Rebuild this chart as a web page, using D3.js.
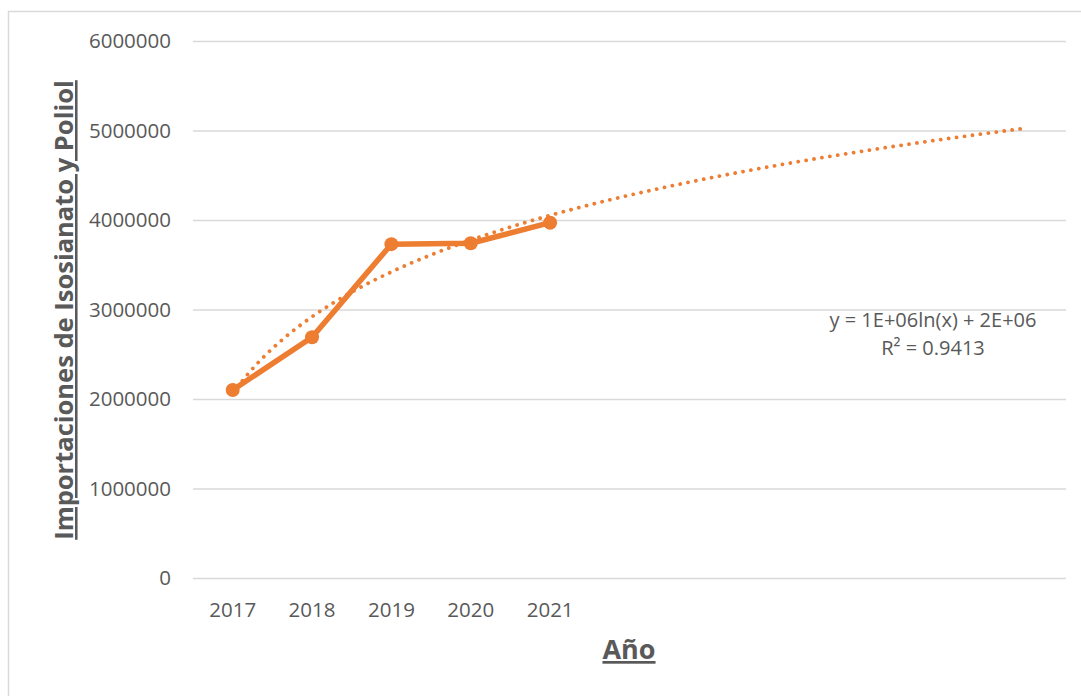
<!DOCTYPE html>
<html>
<head>
<meta charset="utf-8">
<script src="https://cdn.jsdelivr.net/npm/d3@7"></script>
<style>
  body { margin: 0; background: #fff; }
  svg text { font-family: "Open Sans", "Noto Sans", sans-serif; }
</style>
</head>
<body>
<div id="chart"></div>
<script>
// data
let years = ["2017", "2018", "2019", "2020", "2021"];
let imports = [2100000, 2690000, 3730000, 3740000, 3970000];
let y_ticks = [0, 1000000, 2000000, 3000000, 4000000, 5000000, 6000000];
let forecast_periods = 6; // trendline forecast forward
let eq_lines = ["y = 1E+06ln(x) + 2E+06", "R\u00b2 = 0.9413"];

let W = 1081, H = 696;
let margin = { left: 193, right: 15, top: 41, bottom: 118 };
let chart_width = W - margin.left - margin.right;
let chart_height = H - margin.top - margin.bottom;
let orange = "#ED7D31";
let grey_text = "#595959";

let svg = d3.select("#chart").append("svg")
  .attr("width", W)
  .attr("height", H);

// chart area border
svg.append("rect")
  .attr("x", 8.5).attr("y", 11.5)
  .attr("width", W + 20).attr("height", H + 20)
  .attr("fill", "none")
  .attr("stroke", "#D9D9D9")
  .attr("stroke-width", 1.5);

let g = svg.append("g")
  .attr("transform", `translate(${margin.left},${margin.top})`);

// categories: the 5 years plus empty slots for the forecast
let n_cat = years.length + forecast_periods;
let cats = d3.range(1, n_cat + 1);

let x_scale = d3.scaleBand().domain(cats).range([0, chart_width]);
let xc = (i) => x_scale(i) + x_scale.bandwidth() / 2; // centre of category i
let x_lin = d3.scaleLinear().domain([1, 2]).range([xc(1), xc(2)]);

let y_scale = d3.scaleLinear().domain([0, 6000000]).range([chart_height, 0]);

// gridlines + y labels
let yAxis = d3.axisLeft(y_scale)
  .tickValues(y_ticks)
  .tickSize(-chart_width)
  .tickPadding(22)
  .tickFormat(d3.format("d"));

let yg = g.append("g").attr("class", "y-axis").call(yAxis);
yg.select(".domain").remove();
yg.selectAll("line").attr("stroke", "#D9D9D9").attr("stroke-width", 1.5);
yg.selectAll("text")
  .attr("fill", grey_text)
  .attr("font-size", "20.5px")
  .attr("font-family", "'Open Sans', sans-serif");

// x labels
let xAxis = d3.axisBottom(x_scale)
  .tickSize(0)
  .tickPadding(24)
  .tickFormat((d) => (d <= years.length ? years[d - 1] : ""));

let xg = g.append("g")
  .attr("class", "x-axis")
  .attr("transform", `translate(0,${chart_height})`)
  .call(xAxis);
xg.select(".domain").remove();
xg.selectAll("text")
  .attr("fill", grey_text)
  .attr("font-size", "20.5px")
  .attr("font-family", "'Open Sans', sans-serif");

// logarithmic trendline, least squares on ln(x)
let lx = years.map((d, i) => Math.log(i + 1));
let mx = d3.mean(lx), my = d3.mean(imports);
let a = d3.sum(lx, (v, i) => (v - mx) * (imports[i] - my)) / d3.sum(lx, (v) => (v - mx) * (v - mx));
let b = my - a * mx;

let trend = d3.range(1, n_cat + 0.001, 0.05).map((x) => [x, a * Math.log(x) + b]);

g.append("path")
  .datum(trend)
  .attr("fill", "none")
  .attr("stroke", orange)
  .attr("stroke-width", 3.8)
  .attr("stroke-linecap", "round")
  .attr("stroke-dasharray", "0.01 8")
  .attr("d", d3.line().x((d) => x_lin(d[0])).y((d) => y_scale(d[1])));

// data line
let line = d3.line()
  .x((d, i) => xc(i + 1))
  .y((d) => y_scale(d));

g.append("path")
  .datum(imports)
  .attr("fill", "none")
  .attr("stroke", orange)
  .attr("stroke-width", 5.5)
  .attr("stroke-linejoin", "round")
  .attr("d", line);

g.selectAll(".dot")
  .data(imports)
  .enter()
  .append("circle")
  .attr("class", "dot")
  .attr("cx", (d, i) => xc(i + 1))
  .attr("cy", (d) => y_scale(d))
  .attr("r", 7)
  .attr("fill", orange);

// trendline label
let eq = svg.append("text")
  .attr("text-anchor", "middle")
  .attr("fill", grey_text)
  .attr("font-size", "20px");
eq_lines.forEach((t, i) => {
  eq.append("tspan")
    .attr("x", 933)
    .attr("y", 327 + i * 28)
    .text(t);
});

// axis titles
svg.append("text")
  .attr("x", 629)
  .attr("y", 659)
  .attr("text-anchor", "middle")
  .attr("font-size", "27px")
  .attr("font-weight", "bold")
  .attr("fill", grey_text)
  .attr("text-decoration", "underline")
  .text("Año");

svg.append("text")
  .attr("transform", "translate(73,310) rotate(-90)")
  .attr("text-anchor", "middle")
  .attr("font-size", "25.5px")
  .attr("font-weight", "bold")
  .attr("fill", grey_text)
  .attr("text-decoration", "underline")
  .text("Importaciones de Isosianato y Poliol");
</script>
</body>
</html>
